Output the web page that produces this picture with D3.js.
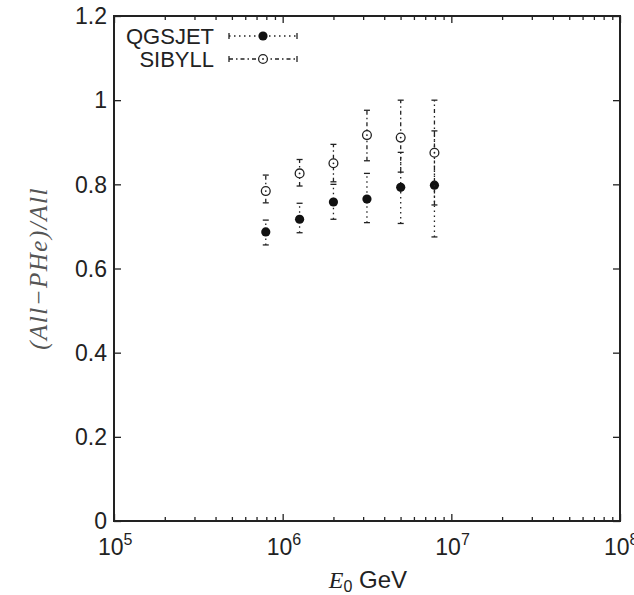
<!DOCTYPE html>
<html>
<head>
<meta charset="utf-8">
<script src="https://cdn.jsdelivr.net/npm/d3@7"></script>
<style>
  body { margin: 0; background: #fff; }
  .tick-label { font-family: "Liberation Sans", Arial, sans-serif; font-size: 23px; fill: #222; }
  .axis path, .axis line { stroke: #222; }
</style>
</head>
<body>
<div class="plotdiv"></div>
<script>
// values
var energies = [7.94e5, 1.26e6, 2.0e6, 3.16e6, 5.01e6, 7.94e6];
var qgsjetRatio = [0.687, 0.717, 0.758, 0.765, 0.793, 0.798];
var qgsjetLow   = [0.656, 0.685, 0.717, 0.709, 0.707, 0.675];
var qgsjetHigh  = [0.715, 0.755, 0.800, 0.826, 0.876, 0.927];
var sibyllRatio = [0.784, 0.826, 0.850, 0.917, 0.911, 0.875];
var sibyllLow   = [0.756, 0.796, 0.806, 0.856, 0.829, 0.751];
var sibyllHigh  = [0.822, 0.859, 0.895, 0.976, 1.000, 1.000];
var yTicks = [0, 0.2, 0.4, 0.6, 0.8, 1, 1.2];
var yTickLabels = ["0", "0.2", "0.4", "0.6", "0.8", "1", "1.2"];
var xExponents = [5, 6, 7, 8];
var seriesNames = ["QGSJET", "SIBYLL"];

// padding around the plot
var margin = {top: 16, right: 14, bottom: 74, left: 114};
var width = 634 - margin.left - margin.right;
var height = 595 - margin.top - margin.bottom;

var x = d3.scaleLog().domain([1e5, 1e8]).range([0, width]);
var y = d3.scaleLinear().domain([0, 1.2]).range([height, 0]);

var majorX = xExponents.map(function(e) { return Math.pow(10, e); });
var minorX = [];
majorX.slice(0, -1).forEach(function(d) {
  for (var k = 2; k < 10; k++) minorX.push(d * k);
});

var svg = d3.select(".plotdiv")
    .append("svg")
    .attr("width", 634)
    .attr("height", 595)
    .append("g")
    .attr("transform", "translate(" + margin.left + "," + margin.top + ")");

// ticks on all four sides, pointing inwards
function addAxis(axis, tx, ty) {
  svg.append("g")
      .classed("axis", true)
      .attr("transform", "translate(" + tx + "," + ty + ")")
      .call(axis)
      .call(function(g) {
        g.select(".domain").remove();
        g.selectAll("line").attr("stroke-width", 1.3);
      });
}
addAxis(d3.axisBottom(x).tickValues(majorX).tickSize(-7).tickFormat(""), 0, height);
addAxis(d3.axisBottom(x).tickValues(minorX).tickSize(-4).tickFormat(""), 0, height);
addAxis(d3.axisTop(x).tickValues(majorX).tickSize(-7).tickFormat(""), 0, 0);
addAxis(d3.axisTop(x).tickValues(minorX).tickSize(-4).tickFormat(""), 0, 0);
addAxis(d3.axisLeft(y).tickValues(yTicks).tickSize(-7).tickFormat(""), 0, 0);
addAxis(d3.axisRight(y).tickValues(yTicks).tickSize(-7).tickFormat(""), width, 0);

// frame
svg.append("rect")
    .attr("width", width)
    .attr("height", height)
    .attr("fill", "none")
    .attr("stroke", "#222")
    .attr("stroke-width", 2);

// y tick labels
svg.selectAll(".ylab")
    .data(yTicks)
  .enter().append("text")
    .attr("class", "tick-label")
    .attr("x", -7)
    .attr("y", function(d) { return y(d); })
    .attr("dy", "0.36em")
    .style("text-anchor", "end")
    .text(function(d, i) { return yTickLabels[i]; });

// x tick labels 10^n
var xl = svg.selectAll(".xlab")
    .data(xExponents)
  .enter().append("text")
    .attr("class", "tick-label")
    .attr("x", function(d) { return x(Math.pow(10, d)) - 16; })
    .attr("y", height + 34);
xl.append("tspan").text("10");
xl.append("tspan")
    .attr("dy", -10)
    .style("font-size", "16px")
    .text(function(d) { return d; });

// axis titles
svg.append("text")
    .attr("x", width / 2 + 1)
    .attr("y", height + 67)
    .style("text-anchor", "middle")
    .style("font-size", "24px")
    .style("fill", "#222")
    .call(function(t) {
      t.append("tspan").style("font-family", "'Liberation Serif', 'Times New Roman', serif")
          .style("font-style", "italic").text("E");
      t.append("tspan").style("font-family", "'Liberation Sans', Arial, sans-serif")
          .style("font-size", "16px").attr("dy", 4).text("0");
      t.append("tspan").style("font-family", "'Liberation Sans', Arial, sans-serif")
          .attr("dy", -4).text(" GeV");
    });

svg.append("text")
    .attr("transform", "rotate(-90)")
    .attr("x", -(y(0.6)))
    .attr("y", -67)
    .style("text-anchor", "middle")
    .style("font-family", "'Liberation Serif', 'Times New Roman', serif")
    .style("font-style", "italic")
    .style("font-size", "25px")
    .style("letter-spacing", "1.5px")
    .style("fill", "#555")
    .text("(All\u2212PHe)/All");

// series table built from the arrays
var series = [
  {name: seriesNames[0], val: qgsjetRatio, lo: qgsjetLow, hi: qgsjetHigh, dash: "1.5,3.5", filled: true},
  {name: seriesNames[1], val: sibyllRatio, lo: sibyllLow, hi: sibyllHigh, dash: "4,3,1.5,3", filled: false}
];

function drawMarker(g, cx, cy, s) {
  if (s.filled) {
    g.append("circle").attr("cx", cx).attr("cy", cy).attr("r", 4.6).attr("fill", "#111");
  } else {
    g.append("circle").attr("cx", cx).attr("cy", cy).attr("r", 4.4)
        .attr("fill", "#fff").attr("stroke", "#222").attr("stroke-width", 1.3);
    g.append("circle").attr("cx", cx).attr("cy", cy).attr("r", 0.9).attr("fill", "#222");
  }
}

series.forEach(function(s) {
  var g = svg.append("g");
  energies.forEach(function(e, i) {
    var cx = x(e);
    // error bar
    g.append("line")
        .attr("x1", cx).attr("x2", cx)
        .attr("y1", y(s.lo[i])).attr("y2", y(s.hi[i]))
        .attr("stroke", "#222").attr("stroke-width", 1.3)
        .attr("stroke-dasharray", s.dash);
    [s.lo[i], s.hi[i]].forEach(function(v) {
      g.append("line")
          .attr("x1", cx - 3).attr("x2", cx + 3)
          .attr("y1", y(v)).attr("y2", y(v))
          .attr("stroke", "#222").attr("stroke-width", 1.3);
    });
  });
  energies.forEach(function(e, i) {
    drawMarker(g, x(e), y(s.val[i]), s);
  });
});

// legend
var legend = svg.append("g");
series.forEach(function(s, i) {
  var ly = 20 + i * 23;
  legend.append("text")
      .attr("class", "tick-label")
      .attr("x", 100)
      .attr("y", ly)
      .attr("dy", "0.36em")
      .style("text-anchor", "end")
      .style("font-size", "22px")
      .text(s.name);
  legend.append("line")
      .attr("x1", 115).attr("x2", 183)
      .attr("y1", ly).attr("y2", ly)
      .attr("stroke", "#222").attr("stroke-width", 1.3)
      .attr("stroke-dasharray", s.dash);
  [115, 183].forEach(function(lx) {
    legend.append("line")
        .attr("x1", lx).attr("x2", lx)
        .attr("y1", ly - 3).attr("y2", ly + 3)
        .attr("stroke", "#222").attr("stroke-width", 1.3);
  });
  drawMarker(legend, 149, ly, s);
});
</script>
</body>
</html>
